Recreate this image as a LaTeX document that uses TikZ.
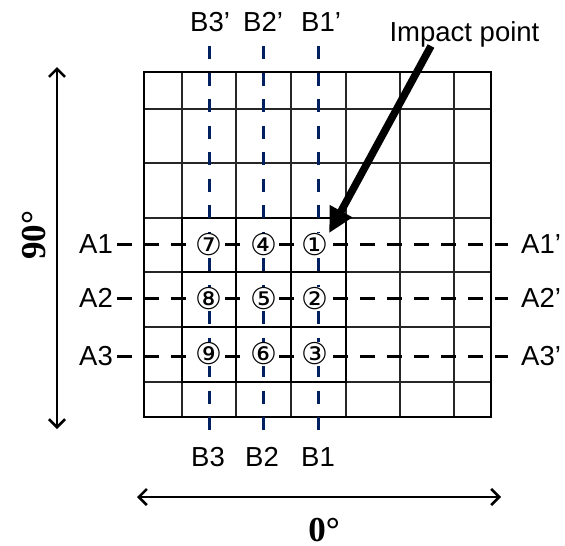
\documentclass[tikz,border=0pt]{standalone}
\usepackage{fontspec}
\setmainfont{Liberation Sans}
\newfontfamily\dejavu{DejaVu Sans}
\newfontfamily\serifbold{Liberation Serif}
\usetikzlibrary{arrows.meta}
\definecolor{navy}{RGB}{0,32,96}
\tikzset{
  lbl/.style={inner sep=0pt, font=\fontsize{27.5}{30}\selectfont},
  deg/.style={inner sep=0pt, text depth=0pt, font=\serifbold\bfseries\fontsize{35}{38}\selectfont},
  circ/.style={inner sep=0.5pt, fill=white, font=\dejavu\fontsize{30}{32}\selectfont},
  thin grid/.style={line width=1.3pt, black!85},
  frame/.style={line width=2pt},
  thickbox/.style={line width=2.6pt},
  bdash/.style={navy, line width=3pt, dash pattern=on 13pt off 13.5pt},
  adash/.style={black, line width=3pt, dash pattern=on 15pt off 12pt},
  dblarrow/.style={line width=2.6pt, {Straight Barb[length=8pt,width=16pt]}-{Straight Barb[length=8pt,width=16pt]}},
  impact/.style={line width=7.5pt, -{Triangle[length=25pt,width=24pt]}}
}
\begin{document}
\begin{tikzpicture}[x=1pt,y=-1pt]
\useasboundingbox (0,0) rectangle (565,546);
% grid
\foreach \x in {182,236,291,346,400,454}
  \draw[thin grid] (\x,72) -- (\x,417);
\foreach \y in {109,163,218,272,327,382}
  \draw[thin grid] (144,\y) -- (491,\y);
\draw[frame] (144,72) rectangle (491,417);
\draw[thickbox] (182,218) rectangle (346,382);
\draw[thickbox] (236,218) -- (236,382) (291,218) -- (291,382)
  (182,272) -- (346,272) (182,327) -- (346,327);
% coordinates for dashed lines
\coordinate (b3t) at (209,46);  \coordinate (b3b) at (209,438);
\coordinate (b2t) at (263.5,46);\coordinate (b2b) at (263.5,438);
\coordinate (b1t) at (318,46);  \coordinate (b1b) at (318,438);
\coordinate (a1l) at (117,244); \coordinate (a1r) at (508,244);
\coordinate (a2l) at (117,298); \coordinate (a2r) at (508,298);
\coordinate (a3l) at (117,356); \coordinate (a3r) at (508,356);
\draw[adash] (a1l) -- (a1r);
\draw[adash] (a2l) -- (a2r);
\draw[adash] (a3l) -- (a3r);
\draw[bdash] (b3t) -- (b3b);
\draw[bdash] (b2t) -- (b2b);
\draw[bdash] (b1t) -- (b1b);
% circled numbers
\node[circ] (n7) at (209,245) {⑦};
\node[circ] (n4) at (263.5,245) {④};
\node[circ] (n1) at (315,245) {①};
\node[circ] (n8) at (209,299) {⑧};
\node[circ] (n5) at (263.5,299) {⑤};
\node[circ] (n2) at (315,299) {②};
\node[circ] (n9) at (209,354) {⑨};
\node[circ] (n6) at (263.5,354) {⑥};
\node[circ] (n3) at (315,354) {③};
% labels
\node[lbl, anchor=base east] (A1) at (113,253.7) {A1};
\node[lbl, anchor=base east] (A2) at (113,307.7) {A2};
\node[lbl, anchor=base east] (A3) at (113,365.7) {A3};
\node[lbl, anchor=base west] (A1p) at (521,253.7) {A1’};
\node[lbl, anchor=base west] (A2p) at (521,307.7) {A2’};
\node[lbl, anchor=base west] (A3p) at (521,365.7) {A3’};
\node[lbl, anchor=base west] (B3p) at (190,31.7) {B3’};
\node[lbl, anchor=base west] (B2p) at (243,31.7) {B2’};
\node[lbl, anchor=base west] (B1p) at (301,31.7) {B1’};
\node[lbl, anchor=base west] (B3) at (191,466.7) {B3};
\node[lbl, anchor=base west] (B2) at (245,466.7) {B2};
\node[lbl, anchor=base west] (B1) at (301,466.7) {B1};
\node[lbl, anchor=base] (imp) at (464.5,41) {Impact point};
% impact arrow
\coordinate (impS) at (431,46);
\draw[impact] (impS) -- (n1.north east);
% axes arrows
\coordinate (vT) at (57,67); \coordinate (vB) at (57,429);
\coordinate (hL) at (137,497); \coordinate (hR) at (501,497);
\draw[dblarrow] (vT) -- (vB);
\draw[dblarrow] (hL) -- (hR);
\node[deg, anchor=base] (d0) at (324,541) {0°};
\node[deg, anchor=base, rotate=90] (d90) at (45,235) {90°};
\end{tikzpicture}
\end{document}
